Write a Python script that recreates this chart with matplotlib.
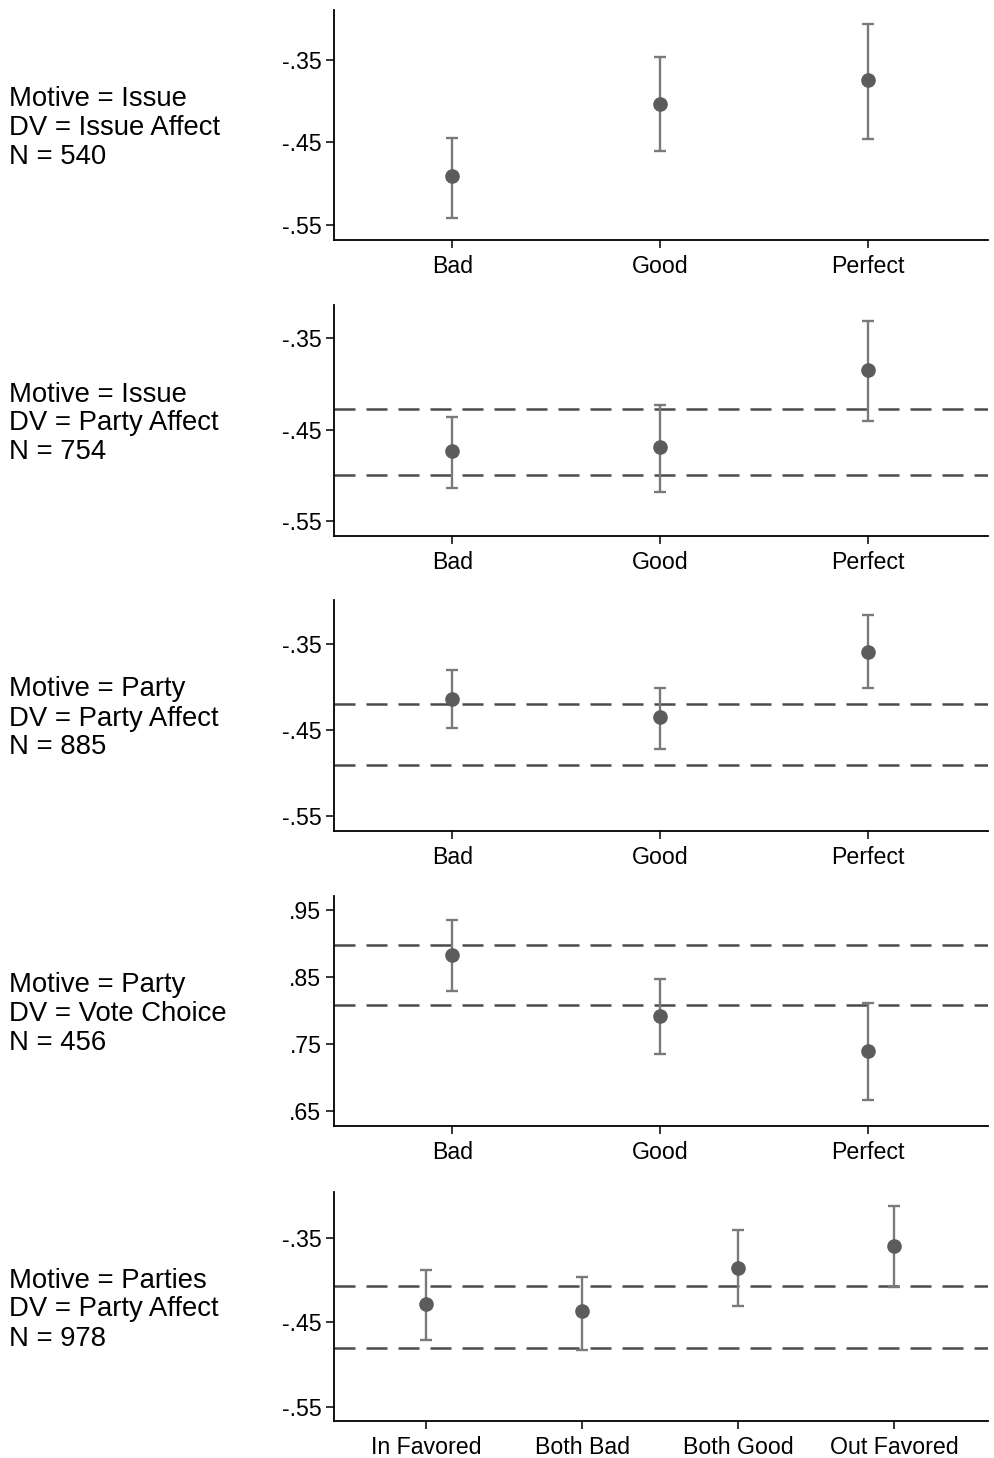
import matplotlib
matplotlib.use("Agg")
import matplotlib.pyplot as plt
import numpy as np

plt.rcParams["font.family"] = ["Liberation Sans", "DejaVu Sans"]

# Panel descriptions
panel_labels = [
    ["Motive = Issue", "DV = Issue Affect", "N = 540"],
    ["Motive = Issue", "DV = Party Affect", "N = 754"],
    ["Motive = Party", "DV = Party Affect", "N = 885"],
    ["Motive = Party", "DV = Vote Choice", "N = 456"],
    ["Motive = Parties", "DV = Party Affect", "N = 978"],
]

# Categories
cats_quality = ["Bad", "Good", "Perfect"]
cats_parties = ["In Favored", "Both Bad", "Both Good", "Out Favored"]

# Point estimates and confidence bounds
est_issue_issue = [-0.491, -0.404, -0.375]
lo_issue_issue = [-0.541, -0.461, -0.446]
hi_issue_issue = [-0.445, -0.347, -0.307]

est_issue_party = [-0.473, -0.469, -0.385]
lo_issue_party = [-0.514, -0.518, -0.441]
hi_issue_party = [-0.436, -0.423, -0.331]
ref_issue_party = [-0.427, -0.500]

est_party_party = [-0.414, -0.435, -0.359]
lo_party_party = [-0.448, -0.472, -0.402]
hi_party_party = [-0.381, -0.401, -0.316]
ref_party_party = [-0.420, -0.491]

est_party_vote = [0.884, 0.792, 0.740]
lo_party_vote = [0.830, 0.735, 0.666]
hi_party_vote = [0.936, 0.848, 0.811]
ref_party_vote = [0.898, 0.808]

est_parties_party = [-0.428, -0.437, -0.386, -0.360]
lo_parties_party = [-0.471, -0.483, -0.431, -0.409]
hi_parties_party = [-0.388, -0.396, -0.341, -0.312]
ref_parties_party = [-0.407, -0.481]

# Tick values and their labels
yticks_neg = [-0.55, -0.45, -0.35]
yticklabels_neg = ["-.55", "-.45", "-.35"]
yticks_vote = [0.65, 0.75, 0.85, 0.95]
yticklabels_vote = [".65", ".75", ".85", ".95"]

panels = [
    dict(cats=cats_quality, est=est_issue_issue, lo=lo_issue_issue, hi=hi_issue_issue,
         ref=[], yt=yticks_neg, ytl=yticklabels_neg, ylim=(-0.568, -0.290)),
    dict(cats=cats_quality, est=est_issue_party, lo=lo_issue_party, hi=hi_issue_party,
         ref=ref_issue_party, yt=yticks_neg, ytl=yticklabels_neg, ylim=(-0.566, -0.314)),
    dict(cats=cats_quality, est=est_party_party, lo=lo_party_party, hi=hi_party_party,
         ref=ref_party_party, yt=yticks_neg, ytl=yticklabels_neg, ylim=(-0.568, -0.299)),
    dict(cats=cats_quality, est=est_party_vote, lo=lo_party_vote, hi=hi_party_vote,
         ref=ref_party_vote, yt=yticks_vote, ytl=yticklabels_vote, ylim=(0.6275, 0.9715)),
    dict(cats=cats_parties, est=est_parties_party, lo=lo_parties_party, hi=hi_parties_party,
         ref=ref_parties_party, yt=yticks_neg, ytl=yticklabels_neg, ylim=(-0.567, -0.296)),
]

W, H = 995, 1458
fig = plt.figure(figsize=(W / 100, H / 100), dpi=100)

# Axes boxes in pixels: (top, bottom)
boxes = [(10, 240), (305, 536), (600, 831), (896, 1126), (1192, 1421)]
ax_left, ax_right = 334, 988

marker_col = "#5c5c5c"
bar_col = "#7a7a7a"
ref_col = "#4a4a4a"

for p, (top, bot), labels in zip(panels, boxes, panel_labels):
    ax = fig.add_axes([ax_left / W, 1 - bot / H, (ax_right - ax_left) / W, (bot - top) / H])
    n = len(p["cats"])
    x = np.arange(1, n + 1)
    est = np.array(p["est"])
    lo = np.array(p["lo"])
    hi = np.array(p["hi"])

    for r in p["ref"]:
        ax.axhline(r, color=ref_col, lw=1.8, dashes=(8.4, 4.4), zorder=1)

    ax.errorbar(x, est, yerr=[est - lo, hi - est], fmt="none", ecolor=bar_col,
                elinewidth=1.7, capsize=4, capthick=1.7, zorder=2)
    ax.plot(x, est, "o", color=marker_col, markersize=9.5, zorder=3)

    if n == 3:
        ax.set_xlim(0.43, 3.578)
    else:
        ax.set_xlim(0.41, 4.60)
    ax.set_ylim(*p["ylim"])
    ax.set_xticks(x)
    ax.set_xticklabels(p["cats"], fontsize=16.7)
    ax.set_yticks(p["yt"])
    ax.set_yticklabels(p["ytl"], fontsize=16.7)
    ax.tick_params(axis="both", direction="out", length=6, width=1.1, color="black")
    ax.tick_params(axis="y", pad=3)
    ax.tick_params(axis="x", pad=5)
    for s in ["top", "right"]:
        ax.spines[s].set_visible(False)
    for s in ["left", "bottom"]:
        ax.spines[s].set_linewidth(1.3)
    ax.patch.set_alpha(0)

    mid = (top + bot) / 2
    for i, line in enumerate(labels):
        yc = mid + (i - 1) * 29
        fig.text(9 / W, 1 - (yc + 10) / H, line, fontsize=19.8, ha="left", va="baseline")

fig.savefig("out.png", dpi=100)
